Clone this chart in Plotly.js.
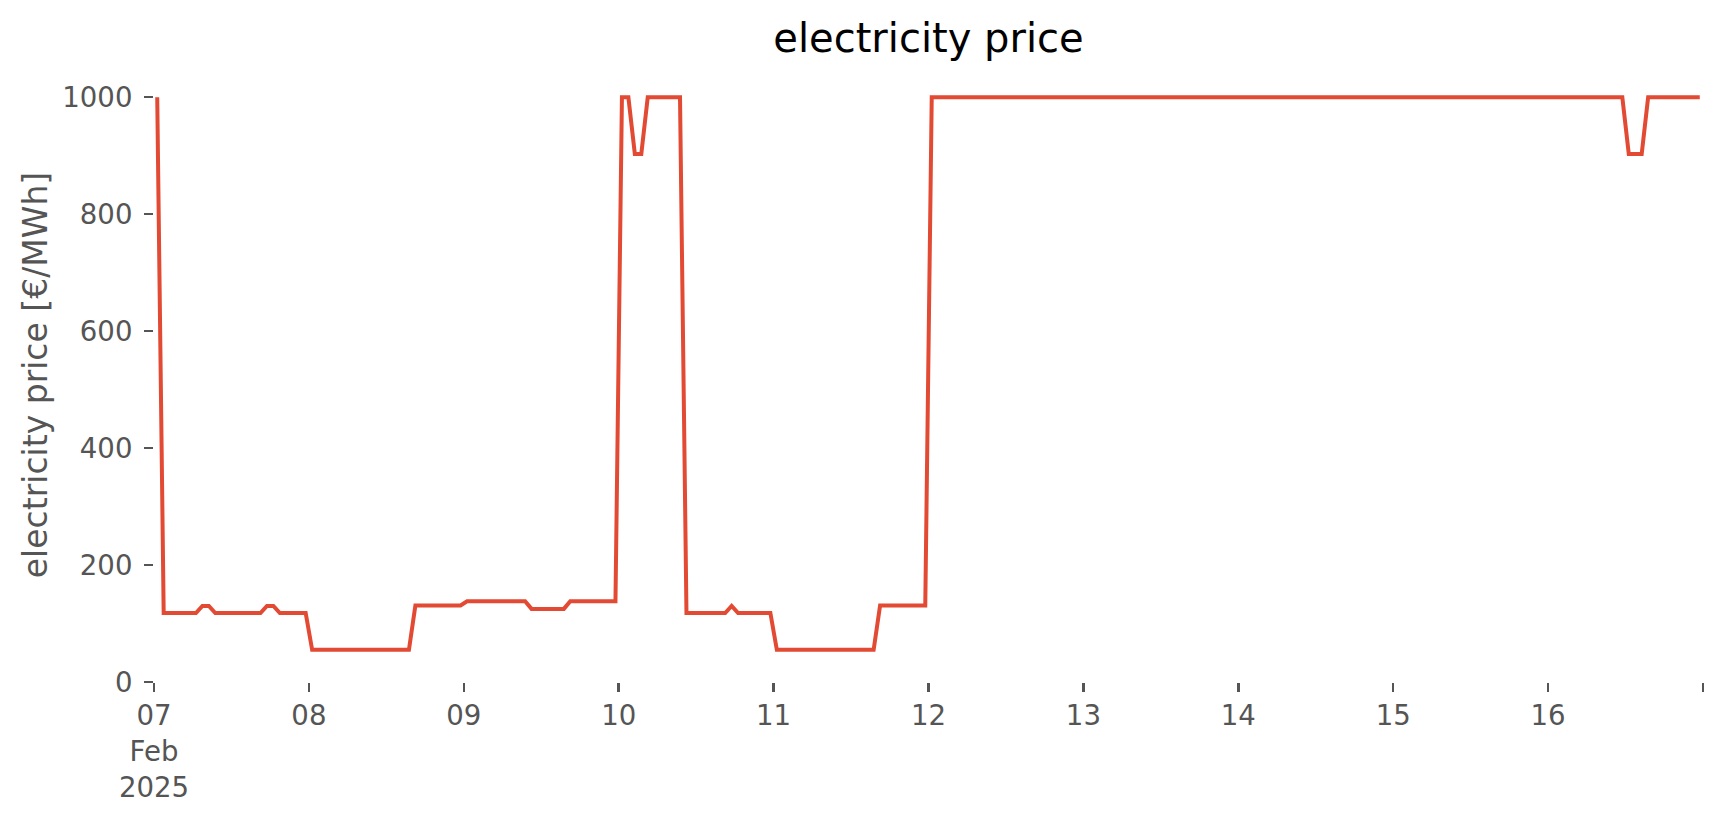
<!DOCTYPE html>
<html>
<head>
<meta charset="utf-8">
<script src="https://cdn.plot.ly/plotly-3.0.1.min.js"></script>
<style>html,body{margin:0;padding:0;background:#fff;}#chart{width:1724px;height:815px;}</style>
</head>
<body>
<div id="chart"></div>
<script>
// Hourly electricity price [€/MWh], one array per day (hours 00..23, values at half past)
const startTime = '2025-02-07T00:30:00';
const day07 = [1000,118,118,118,118,118,118,130,130,118,118,118,118,118,118,118,118,130,130,118,118,118,118,118];
const day08 = [55,55,55,55,55,55,55,55,55,55,55,55,55,55,55,55,131,131,131,131,131,131,131,131];
const day09 = [138,138,138,138,138,138,138,138,138,138,125,125,125,125,125,125,138,138,138,138,138,138,138,138];
const day10 = [1000,1000,903,903,1000,1000,1000,1000,1000,1000,118,118,118,118,118,118,118,130,118,118,118,118,118,118];
const day11 = [55,55,55,55,55,55,55,55,55,55,55,55,55,55,55,55,131,131,131,131,131,131,131,131];
const day12 = [1000,1000,1000,1000,1000,1000,1000,1000,1000,1000,1000,1000,1000,1000,1000,1000,1000,1000,1000,1000,1000,1000,1000,1000];
const day13 = [1000,1000,1000,1000,1000,1000,1000,1000,1000,1000,1000,1000,1000,1000,1000,1000,1000,1000,1000,1000,1000,1000,1000,1000];
const day14 = [1000,1000,1000,1000,1000,1000,1000,1000,1000,1000,1000,1000,1000,1000,1000,1000,1000,1000,1000,1000,1000,1000,1000,1000];
const day15 = [1000,1000,1000,1000,1000,1000,1000,1000,1000,1000,1000,1000,1000,1000,1000,1000,1000,1000,1000,1000,1000,1000,1000,1000];
const day16 = [1000,1000,1000,1000,1000,1000,1000,1000,1000,1000,1000,1000,903,903,903,1000,1000,1000,1000,1000,1000,1000,1000,1000];

const tickDates = ['2025-02-07','2025-02-08','2025-02-09','2025-02-10','2025-02-11','2025-02-12','2025-02-13','2025-02-14','2025-02-15','2025-02-16','2025-02-17'];
const tickLabels = ['07<br>Feb<br>2025','08','09','10','11','12','13','14','15','16',''];
const yTicks = [0,200,400,600,800,1000];

const prices = [].concat(day07,day08,day09,day10,day11,day12,day13,day14,day15,day16);
const t0 = new Date(startTime + 'Z').getTime();
const times = prices.map((_, i) => {
  const d = new Date(t0 + i * 3600000);
  return d.toISOString().slice(0,19).replace('T',' ');
});

const FONT = 'DejaVu Sans, sans-serif';
const GREY = '#555555';

const trace = {
  x: times, y: prices, type: 'scatter', mode: 'lines',
  line: {color: '#E24A33', width: 4},
  hoverinfo: 'x+y'
};

const layout = {
  width: 1724, height: 815,
  margin: {l: 154, r: 21, t: 68, b: 133, pad: 0},
  paper_bgcolor: '#ffffff', plot_bgcolor: '#ffffff',
  showlegend: false,
  font: {family: FONT, color: GREY, size: 27.6},
  title: {text: 'electricity price', font: {family: FONT, size: 40, color: '#000000'},
          x: 0.5, xanchor: 'center', xref: 'paper', y: 0.953, yanchor: 'middle', yref: 'container'},
  xaxis: {
    type: 'date', range: ['2025-02-07 00:00', '2025-02-17 00:00'],
    tickmode: 'array', tickvals: tickDates, ticktext: tickLabels,
    ticks: 'outside', ticklen: 9, tickwidth: 2.5, tickcolor: GREY,
    tickfont: {family: FONT, size: 27.6, color: GREY},
    showgrid: false, zeroline: false, showline: false
  },
  yaxis: {
    range: [0, 1050], tickmode: 'array', tickvals: yTicks,
    ticks: 'outside', ticklen: 9, tickwidth: 2.5, tickcolor: GREY,
    tickfont: {family: FONT, size: 27.6, color: GREY},
    ticklabelstandoff: 6,
    showgrid: false, zeroline: false, showline: false,
    title: {text: 'electricity price [€/MWh]', font: {family: FONT, size: 33, color: GREY}, standoff: 4}
  }
};

Plotly.newPlot('chart', [trace], layout, {displayModeBar: false, staticPlot: true});
</script>
</body>
</html>
